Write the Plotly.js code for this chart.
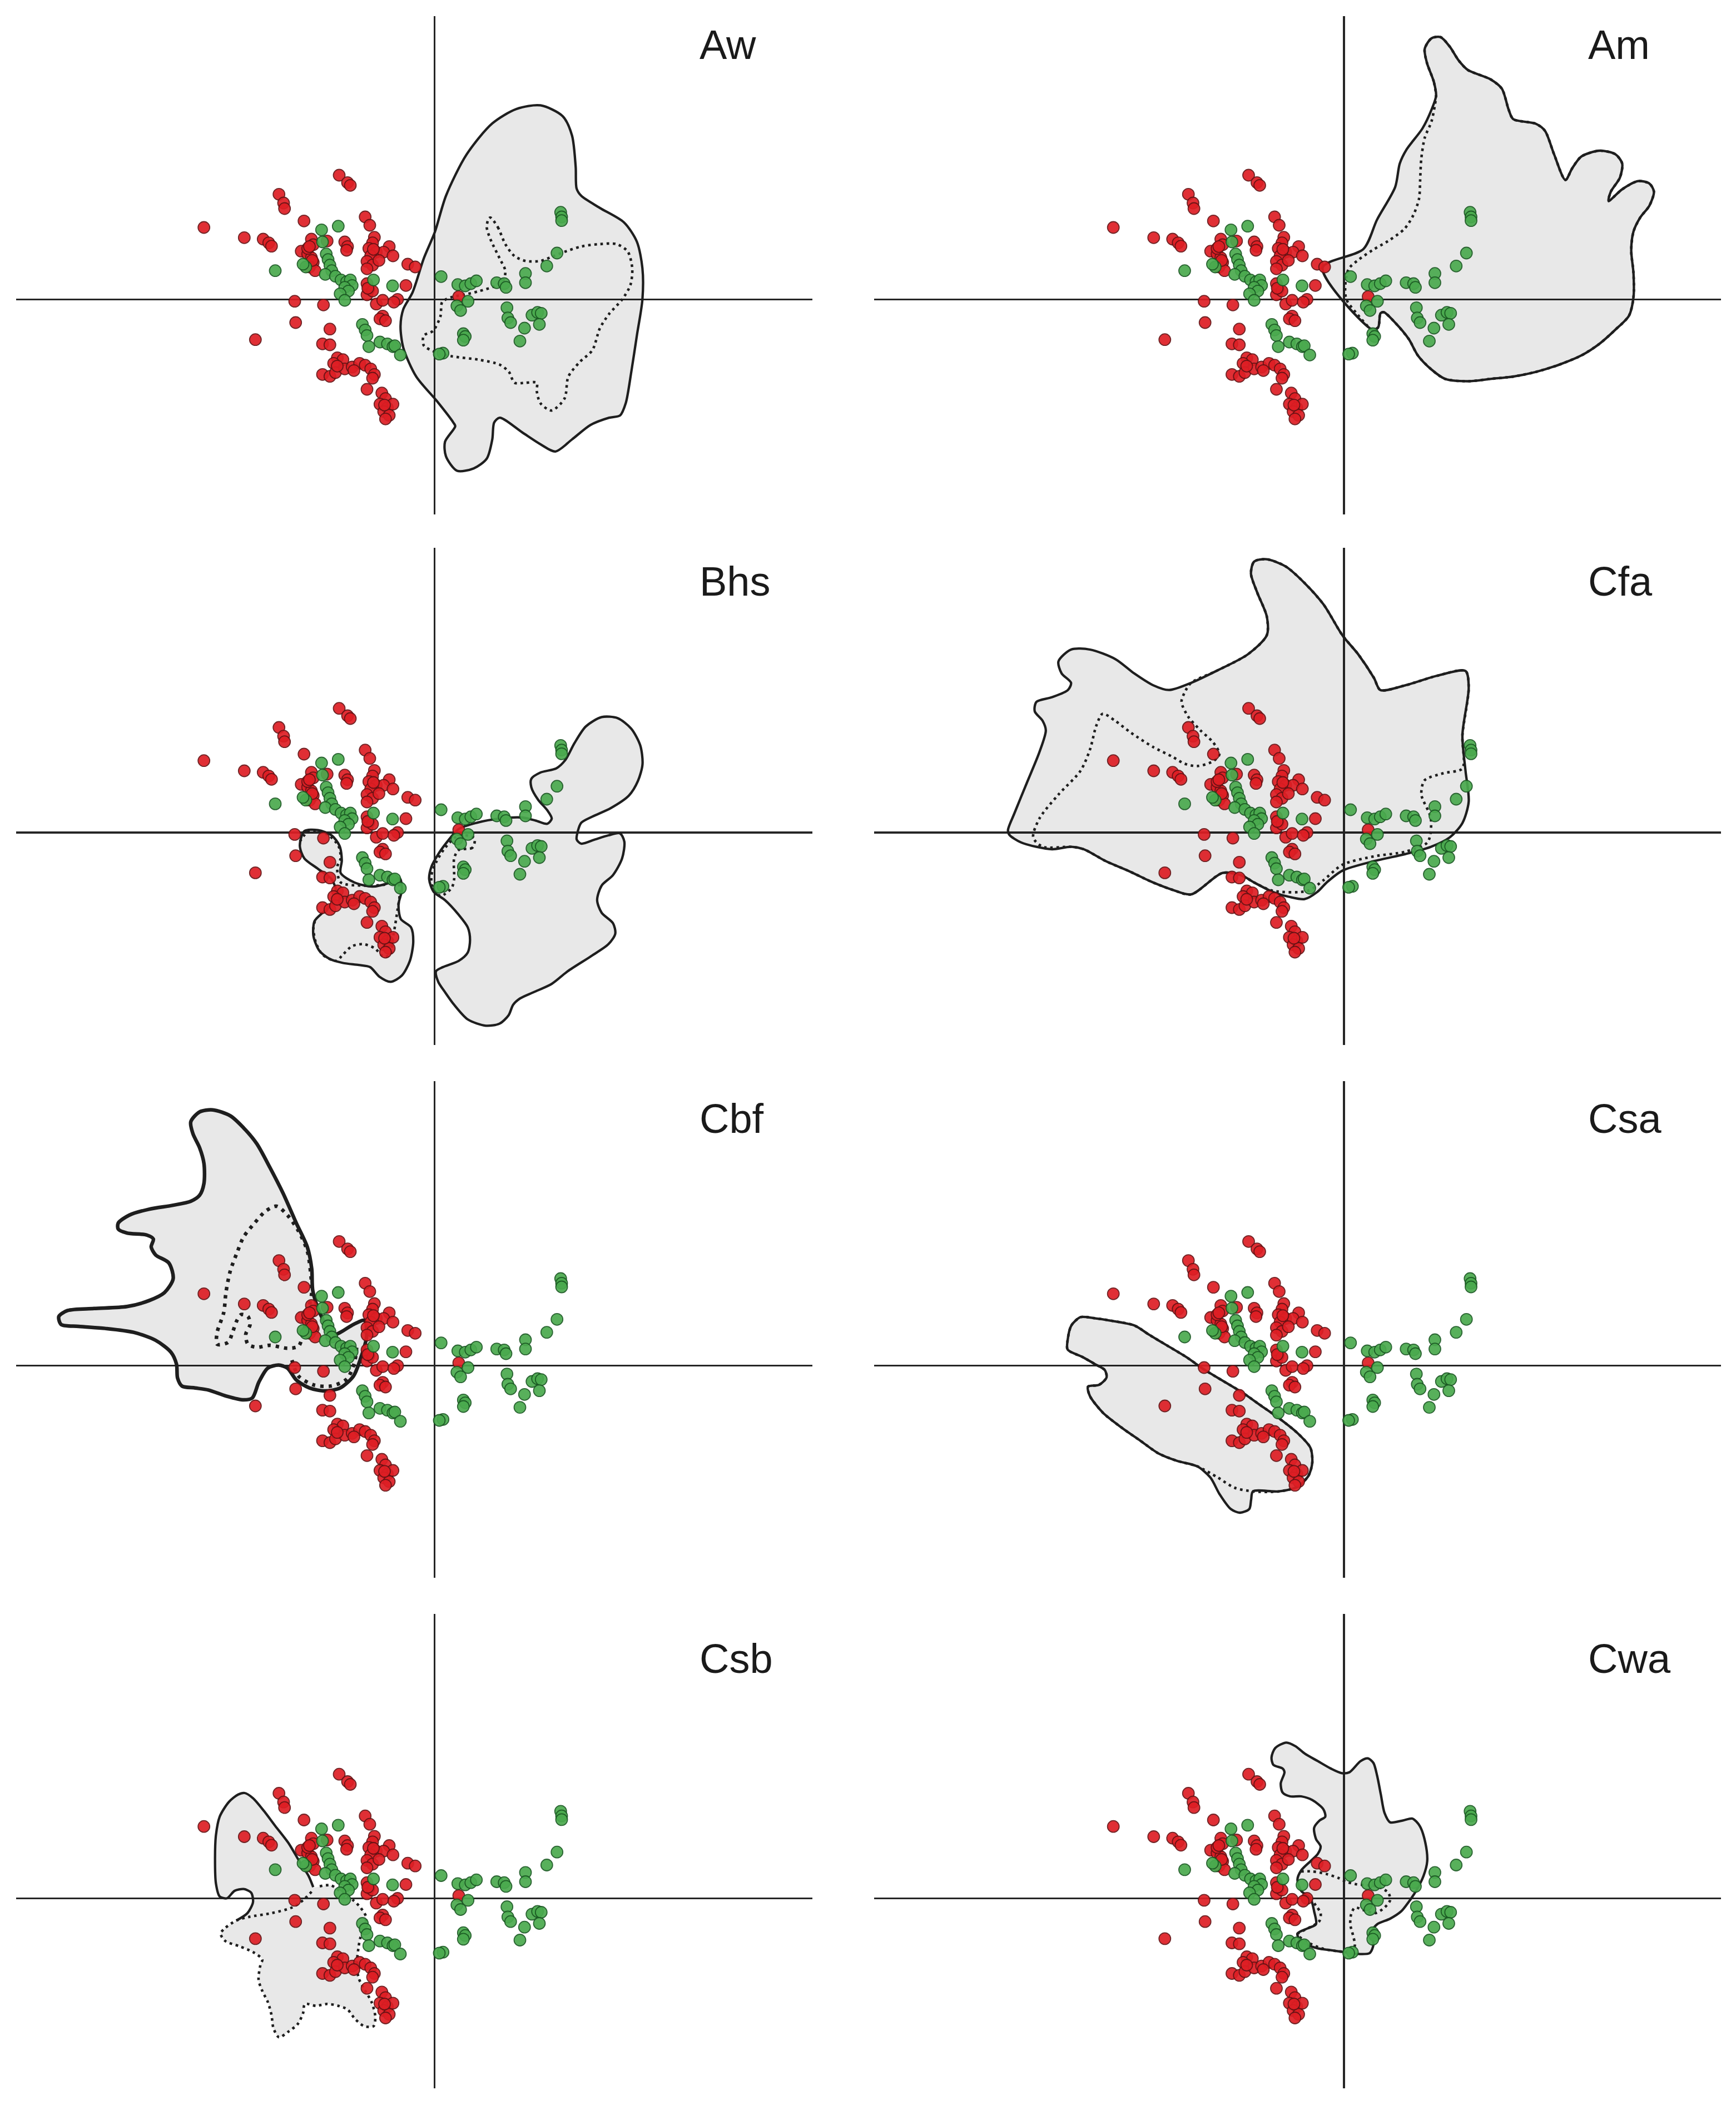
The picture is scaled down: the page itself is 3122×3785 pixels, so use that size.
<!DOCTYPE html>
<html><head><meta charset="utf-8">
<script src="https://cdn.plot.ly/plotly-3.0.1.min.js"></script>
<style>html,body{margin:0;padding:0;background:#fff}</style>
</head><body><div id="chart" style="width:3122px;height:3785px"></div>
<script>
// ---------- ordination scores (same in every panel) ----------
const redPts = [
[-1.715,2.233],[-1.565,2.100],[-1.515,2.050],[-2.798,1.890],[-2.715,1.733],[-2.698,1.633],[-2.348,1.410],[-4.148,1.293],[-3.422,1.110],[-3.082,1.083],[-2.982,1.017],[-2.932,0.957],[-1.248,1.483],[-1.165,1.333],[-2.215,1.083],[-2.182,0.983],[-2.398,0.866],[-2.282,0.816],[-2.215,0.750],[-2.182,0.666],[-2.248,0.583],[-2.148,0.516],[-2.282,0.916],[-1.932,1.050],[-1.615,1.033],[-1.565,0.950],[-1.582,0.883],[-1.082,1.116],[-1.115,1.016],[-1.182,0.916],[-1.048,0.850],[-1.148,0.783],[-1.215,0.683],[-1.115,0.616],[-1.215,0.550],[-0.815,0.950],[-0.915,0.850],[-0.748,0.783],[-0.482,0.633],[-0.348,0.583],[-0.515,0.250],[-0.665,0.000],[0.435,0.050],[-1.215,0.283],[-1.182,0.183],[-1.215,0.083],[-1.115,0.150],[-2.515,-0.034],[-1.998,-0.100],[-1.048,-0.084],[-0.932,-0.017],[-0.732,-0.050],[-0.932,-0.300],[-0.982,-0.350],[-0.882,-0.384],[-2.498,-0.417],[-1.882,-0.534],[-3.222,-0.724],[-2.015,-0.800],[-1.882,-0.817],[-1.748,-1.050],[-1.648,-1.084],[-1.815,-1.150],[-2.015,-1.350],[-1.882,-1.384],[-1.782,-1.317],[-1.615,-1.250],[-1.482,-1.217],[-1.348,-1.150],[-1.248,-1.184],[-1.148,-1.250],[-1.082,-1.350],[-1.115,-1.417],[-1.215,-1.617],[-0.948,-1.684],[-0.882,-1.784],[-0.982,-1.884],[-0.848,-1.950],[-0.915,-2.017],[-0.815,-2.084],[-0.882,-2.150],[-0.748,-1.884],
[-2.25,0.95],[-2.20,0.70],[-1.10,0.90],[-1.00,0.70],[-1.20,0.20],[-1.75,-1.20],[-1.45,-1.28],[-0.90,-1.90]
];
const greenPts = [
[-2.032,1.250],[-1.732,1.316],[-2.015,1.033],[-2.865,0.516],[-2.315,0.583],[-2.365,0.633],[-1.948,0.816],[-1.915,0.716],[-1.882,0.616],[-1.848,0.516],[-1.965,0.450],[-1.782,0.416],[-1.682,0.350],[-1.582,0.316],[-1.515,0.350],[-1.482,0.250],[-1.615,0.216],[-1.548,0.150],[-1.698,0.100],[-1.615,-0.017],[-1.098,0.350],[-0.755,0.243],[-1.298,-0.450],[-1.248,-0.550],[-1.215,-0.650],[-1.182,-0.850],[-0.982,-0.767],[-0.848,-0.800],[-0.748,-0.850],[-0.715,-0.834],[-0.615,-1.000],
[0.118,0.410],[0.418,0.266],[0.552,0.243],[0.652,0.283],[0.752,0.333],[1.118,0.300],[1.252,0.283],[1.285,0.216],[1.635,0.466],[1.635,0.300],[2.018,0.600],[2.202,0.833],[2.268,1.566],[2.285,1.483],[2.285,1.416],[0.602,-0.034],[0.402,-0.117],[0.468,-0.200],[0.518,-0.617],[0.552,-0.667],[0.518,-0.734],[0.152,-0.967],[0.085,-0.984],[1.302,-0.150],[1.318,-0.334],[1.368,-0.417],[1.618,-0.517],[1.535,-0.750],[1.752,-0.284],[1.852,-0.234],[1.918,-0.250],[1.885,-0.450]
];

// ---------- climate envelopes ----------
const awSolid = [[1.905,3.488],[2.305,3.293],[2.472,2.946],[2.538,2.382],[2.555,1.992],[2.638,1.862],[2.972,1.645],[3.405,1.385],[3.638,1.038],[3.738,0.561],[3.738,-0.003],[3.638,-0.653],[3.538,-1.304],[3.438,-1.868],[3.338,-2.085],[3.138,-2.128],[2.805,-2.258],[2.472,-2.518],[2.172,-2.735],[1.905,-2.605],[1.572,-2.388],[1.172,-2.128],[1.072,-2.215],[1.038,-2.518],[0.938,-2.865],[0.705,-3.039],[0.405,-3.082],[0.205,-2.822],[0.188,-2.561],[0.372,-2.280],[0.338,-2.215],[0.038,-1.824],[-0.328,-1.391],[-0.562,-0.870],[-0.612,-0.480],[-0.562,-0.176],[-0.395,0.127],[-0.195,0.734],[0.005,1.211],[0.205,1.862],[0.572,2.599],[1.038,3.163],[1.472,3.423]];
const awDot = [[1.005,1.471],[1.138,1.298],[1.272,0.994],[1.438,0.778],[1.638,0.691],[1.905,0.691],[2.138,0.778],[2.305,0.843],[2.638,0.951],[2.972,0.994],[3.272,0.994],[3.472,0.864],[3.555,0.561],[3.522,0.257],[3.372,-0.003],[3.138,-0.263],[2.972,-0.523],[2.838,-0.914],[2.605,-1.131],[2.405,-1.391],[2.338,-1.781],[2.105,-1.998],[1.905,-1.868],[1.838,-1.651],[1.838,-1.499],[1.638,-1.499],[1.438,-1.499],[1.338,-1.304],[1.172,-1.174],[0.805,-1.087],[0.305,-1.022],[0.038,-0.957],[-0.195,-0.827],[-0.195,-0.653],[-0.028,-0.567],[0.105,-0.307],[0.138,-0.046],[0.305,0.040],[0.538,0.084],[0.805,0.149],[1.072,0.235],[1.238,0.344],[1.272,0.517],[1.172,0.734],[1.005,1.081],[0.938,1.298],[0.972,1.450],[1.005,1.471]];

const amOuter = [[1.656,3.662],[1.615,3.915],[1.492,4.252],[1.452,4.504],[1.574,4.694],[1.737,4.715],[1.901,4.546],[2.064,4.294],[2.227,4.125],[2.635,3.957],[2.839,3.789],[2.962,3.410],[3.043,3.242],[3.452,3.157],[3.615,3.031],[3.778,2.610],[3.982,2.147],[4.105,2.358],[4.268,2.568],[4.594,2.673],[4.880,2.610],[5.003,2.442],[4.962,2.189],[4.799,1.937],[4.758,1.769],[5.003,1.979],[5.288,2.126],[5.492,2.084],[5.574,1.937],[5.492,1.684],[5.329,1.474],[5.207,1.221],[5.166,0.885],[5.207,0.464],[5.207,0.043],[5.125,-0.294],[4.880,-0.546],[4.594,-0.799],[4.268,-1.009],[3.860,-1.178],[3.452,-1.304],[3.043,-1.388],[2.635,-1.430],[2.227,-1.472],[1.819,-1.430],[1.574,-1.262],[1.329,-1.009],[1.166,-0.715],[0.921,-0.420],[0.717,-0.231],[0.656,-0.252],[0.615,-0.504],[0.513,-0.546]];
const amSolidEdge = [[-0.385,0.569],[0.350,0.906],[0.594,1.432],[0.921,2.021],[1.003,2.442],[1.125,2.694],[1.411,3.073],[1.574,3.410],[1.656,3.662]];
const amDotEdge = [[0.227,-0.252],[0.043,0.001],[0.023,0.253],[0.084,0.548],[0.268,0.716],[0.513,0.885],[0.799,1.053],[1.084,1.264],[1.248,1.516],[1.350,1.811],[1.370,2.147],[1.390,2.526],[1.452,2.905],[1.574,3.199],[1.635,3.494],[1.656,3.662]];

const bhsRight = [[0.434,0.063],[0.760,0.176],[1.168,0.251],[1.577,0.270],[1.821,0.214],[2.026,0.157],[2.107,0.251],[2.026,0.402],[1.862,0.590],[1.740,0.816],[1.740,0.966],[1.903,1.079],[2.189,1.154],[2.352,1.305],[2.515,1.606],[2.719,1.907],[3.005,2.076],[3.291,2.057],[3.536,1.869],[3.699,1.568],[3.740,1.229],[3.658,0.928],[3.495,0.665],[3.168,0.439],[2.842,0.289],[2.638,0.176],[2.577,0.026],[2.556,-0.125],[2.638,-0.200],[2.883,-0.125],[3.128,-0.050],[3.332,-0.012],[3.413,-0.163],[3.373,-0.464],[3.209,-0.765],[3.005,-0.953],[2.924,-1.216],[3.005,-1.442],[3.209,-1.630],[3.250,-1.818],[3.128,-2.006],[2.801,-2.232],[2.393,-2.495],[2.107,-2.721],[1.781,-2.871],[1.536,-2.984],[1.413,-3.097],[1.332,-3.285],[1.168,-3.436],[0.923,-3.473],[0.597,-3.360],[0.352,-3.097],[0.189,-2.871],[0.066,-2.683],[0.026,-2.495],[0.148,-2.420],[0.434,-2.307],[0.597,-2.157],[0.638,-1.931],[0.597,-1.705],[0.434,-1.479],[0.189,-1.216],[-0.015,-1.066],[-0.097,-0.840],[-0.056,-0.614],[0.066,-0.388],[0.229,-0.163]];
const bhsRightDot = [[0.719,-0.106],[0.678,-0.275],[0.434,-0.313],[0.352,-0.464],[0.352,-0.840],[0.311,-0.990],[0.189,-1.103],[0.107,-1.141],[-0.036,-0.990],[-0.056,-0.765],[0.026,-0.539],[0.189,-0.275],[0.434,-0.050],[0.719,-0.106]];
const bhsLeft = [[-2.342,0.026],[-2.097,0.044],[-1.852,-0.050],[-1.709,-0.238],[-1.668,-0.501],[-1.689,-0.727],[-1.444,-0.896],[-1.117,-0.971],[-0.791,-0.896],[-0.627,-0.821],[-0.587,-1.028],[-0.648,-1.291],[-0.607,-1.555],[-0.423,-1.705],[-0.383,-1.968],[-0.444,-2.307],[-0.587,-2.570],[-0.791,-2.683],[-0.995,-2.589],[-1.158,-2.420],[-1.362,-2.382],[-1.648,-2.345],[-1.893,-2.269],[-2.076,-2.119],[-2.179,-1.856],[-2.158,-1.592],[-2.015,-1.442],[-1.852,-1.291],[-1.770,-1.066],[-1.852,-0.840],[-2.097,-0.652],[-2.342,-0.464],[-2.423,-0.238]];
const bhsLeftDot = [[-2.423,-0.163],[-2.260,0.026],[-1.933,-0.031],[-1.729,-0.238],[-1.689,-0.464],[-1.750,-0.614],[-1.689,-0.896],[-1.281,-0.953],[-0.872,-0.934],[-0.668,-0.877],[-0.627,-1.103],[-0.668,-1.404],[-0.709,-1.668],[-0.750,-1.893],[-0.791,-2.194],[-0.913,-2.232],[-1.076,-2.081],[-1.281,-2.006],[-1.485,-2.044],[-1.648,-2.194],[-1.770,-2.307],[-2.015,-2.194],[-2.138,-1.968],[-2.179,-1.705],[-2.138,-1.555]];

const cfaTop = [[-2.751,2.691],[-2.297,2.905],[-1.730,3.204],[-1.389,3.546],[-1.389,3.888],[-1.560,4.315],[-1.673,4.657],[-1.616,4.871],[-1.389,4.914],[-1.049,4.785],[-0.708,4.486],[-0.368,4.102],[-0.027,3.546],[0.257,3.204],[0.541,2.777],[0.654,2.563],[1.108,2.649],[1.676,2.820],[2.186,2.905]];
const cfaSolidRest = [[2.243,2.606],[2.130,1.751],[2.186,1.110],[2.243,0.555],[2.130,0.170],[1.903,-0.086],[1.562,-0.257],[1.108,-0.386],[0.541,-0.514],[-0.027,-0.685],[-0.311,-0.898],[-0.481,-1.069],[-0.708,-1.197],[-0.992,-1.155],[-1.276,-1.069],[-1.616,-0.898],[-1.843,-0.770],[-2.184,-0.727],[-2.751,-1.112],[-3.092,-1.027],[-3.432,-0.898],[-3.886,-0.685],[-4.284,-0.514],[-4.681,-0.300],[-4.908,-0.257],[-5.248,-0.300],[-5.532,-0.257],[-5.816,-0.174],[-6.015,-0.044],[-6.043,0.042],[-5.929,0.341],[-5.702,0.897],[-5.475,1.452],[-5.362,1.837],[-5.419,2.008],[-5.561,2.179],[-5.532,2.349],[-5.248,2.435],[-4.965,2.563],[-4.908,2.691],[-5.078,2.862],[-5.135,3.076],[-4.908,3.290],[-4.567,3.290],[-4.113,3.119],[-3.773,2.862],[-3.432,2.649],[-3.148,2.563],[-2.751,2.691]];
const cfaDotRest = [[2.243,2.606],[2.130,1.751],[2.130,1.153],[1.789,1.067],[1.449,0.939],[1.392,0.683],[1.562,0.255],[1.505,-0.172],[1.108,-0.343],[0.541,-0.428],[-0.027,-0.578],[-0.368,-0.856],[-0.651,-1.048],[-1.276,-1.048],[-1.616,-0.898],[-1.843,-0.770],[-2.184,-0.727],[-2.751,-1.112],[-3.092,-1.027],[-3.432,-0.898],[-3.886,-0.685],[-4.284,-0.514],[-4.681,-0.300],[-4.908,-0.257],[-5.419,-0.257],[-5.589,-0.086],[-5.475,0.256],[-5.135,0.683],[-4.738,1.110],[-4.567,1.495],[-4.454,1.922],[-4.340,2.136],[-4.113,2.008],[-3.830,1.794],[-3.432,1.538],[-3.092,1.367],[-2.865,1.238],[-2.638,1.196],[-2.354,1.281],[-2.240,1.409],[-2.354,1.623],[-2.581,1.837],[-2.808,2.093],[-2.922,2.349],[-2.865,2.520],[-2.751,2.691]];

const cbfSolid = [[-3.989,4.599],[-3.673,4.492],[-3.435,4.277],[-3.198,3.992],[-2.961,3.563],[-2.724,3.099],[-2.486,2.563],[-2.289,2.135],[-2.209,1.742],[-2.190,1.349],[-2.051,0.920],[-1.814,0.563],[-1.458,0.742],[-1.261,0.813],[-1.221,0.528],[-1.340,0.099],[-1.458,-0.187],[-1.696,-0.401],[-1.972,-0.455],[-2.249,-0.401],[-2.486,-0.258],[-2.645,-0.044],[-2.803,0.010],[-3.000,-0.044],[-3.159,-0.294],[-3.277,-0.580],[-3.435,-0.615],[-3.752,-0.544],[-4.068,-0.437],[-4.305,-0.401],[-4.543,-0.366],[-4.622,-0.223],[-4.641,0.027],[-4.740,0.242],[-5.017,0.456],[-5.412,0.599],[-5.926,0.670],[-6.401,0.706],[-6.717,0.742],[-6.757,0.885],[-6.599,0.992],[-6.124,1.028],[-5.531,1.063],[-5.136,1.170],[-4.859,1.313],[-4.701,1.563],[-4.780,1.849],[-5.017,1.992],[-5.096,2.135],[-5.057,2.277],[-5.175,2.349],[-5.531,2.385],[-5.689,2.456],[-5.689,2.563],[-5.491,2.706],[-5.136,2.813],[-4.701,2.885],[-4.384,2.956],[-4.226,3.063],[-4.147,3.278],[-4.147,3.635],[-4.226,3.920],[-4.345,4.170],[-4.384,4.385],[-4.226,4.563]];
const cbfDot = [[-2.842,2.867],[-2.645,2.706],[-2.447,2.420],[-2.289,2.063],[-2.229,1.670],[-2.209,1.313],[-2.289,0.920],[-2.368,0.563],[-2.447,0.349],[-2.645,0.313],[-2.961,0.367],[-3.198,0.331],[-3.356,0.385],[-3.396,0.563],[-3.317,0.742],[-3.356,0.885],[-3.475,0.920],[-3.554,0.813],[-3.633,0.599],[-3.712,0.420],[-3.910,0.385],[-3.910,0.599],[-3.791,0.956],[-3.752,1.313],[-3.673,1.706],[-3.554,2.028],[-3.435,2.313],[-3.238,2.563],[-3.040,2.777],[-2.842,2.867]];
const cbfLoop = [[-2.565,0.099],[-2.447,-0.187],[-2.170,-0.348],[-1.854,-0.365],[-1.577,-0.240],[-1.439,0.063],[-1.399,0.349]];

const csaA = [[-4.970,0.456],[-4.903,0.723],[-4.737,0.873],[-4.503,0.856],[-4.170,0.806],[-3.770,0.723],[-3.503,0.556],[-3.170,0.356],[-2.837,0.156],[-2.503,-0.077],[-2.170,-0.277],[-1.837,-0.477],[-1.503,-0.711],[-1.170,-0.944],[-0.837,-1.211],[-0.603,-1.477],[-0.570,-1.744],[-0.637,-1.977],[-0.837,-2.177],[-1.170,-2.261],[-1.637,-2.261]];
const csaLobe = [[-1.670,-2.411],[-1.703,-2.577],[-1.870,-2.644],[-2.037,-2.577],[-2.237,-2.311],[-2.403,-2.011]];
const csaNoLobe = [[-1.970,-2.194],[-2.270,-2.011]];
const csaB = [[-2.637,-1.811],[-3.003,-1.711],[-3.337,-1.577],[-3.670,-1.344],[-4.003,-1.111],[-4.337,-0.844],[-4.570,-0.544],[-4.603,-0.377],[-4.403,-0.344],[-4.270,-0.211],[-4.303,-0.077],[-4.470,0.023],[-4.703,0.156],[-4.970,0.289],[-4.970,0.456]];

const csbSolidEdge = [[-3.565,-0.398],[-3.365,-0.265],[-3.265,-0.065],[-3.298,0.102],[-3.432,0.168],[-3.598,0.135],[-3.732,0.002],[-3.865,0.035],[-3.932,0.268],[-3.948,0.735],[-3.932,1.135],[-3.865,1.468],[-3.698,1.735],[-3.532,1.868],[-3.415,1.895],[-3.265,1.802],[-3.065,1.568],[-2.865,1.302],[-2.632,1.002],[-2.432,0.668],[-2.265,0.402],[-2.182,0.202]];
const csbDotEdge = [[-2.065,0.218],[-1.865,0.235],[-1.665,0.102],[-1.465,-0.032],[-1.332,-0.165],[-1.232,-0.332],[-1.265,-0.532],[-1.332,-0.698],[-1.365,-0.865],[-1.398,-1.198],[-1.365,-1.432],[-1.265,-1.632],[-1.132,-1.865],[-1.065,-2.132],[-1.098,-2.298],[-1.265,-2.298],[-1.432,-2.165],[-1.565,-1.998],[-1.732,-1.932],[-1.932,-1.898],[-2.132,-1.932],[-2.332,-1.898],[-2.365,-2.065],[-2.465,-2.265],[-2.632,-2.398],[-2.798,-2.498],[-2.898,-2.332],[-2.932,-2.098],[-2.998,-1.865],[-3.098,-1.665],[-3.165,-1.465],[-3.132,-1.198],[-3.098,-1.098],[-3.265,-0.965],[-3.498,-0.865],[-3.765,-0.765],[-3.848,-0.632],[-3.765,-0.532],[-3.565,-0.398]];
const csbInner = [[-3.332,-0.332],[-2.932,-0.265],[-2.565,-0.165],[-2.365,-0.032],[-2.198,0.135]];

const cwaSolid = [[-1.303,2.535],[-1.237,2.702],[-1.037,2.802],[-0.870,2.735],[-0.703,2.602],[-0.470,2.468],[-0.237,2.335],[-0.037,2.252],[0.097,2.268],[0.297,2.468],[0.430,2.518],[0.530,2.435],[0.597,2.202],[0.663,1.868],[0.730,1.535],[0.830,1.368],[1.063,1.402],[1.230,1.435],[1.363,1.302],[1.463,1.002],[1.497,0.668],[1.430,0.402],[1.297,0.135],[1.163,-0.065],[1.030,-0.232],[0.830,-0.365],[0.597,-0.465],[0.497,-0.598],[0.530,-0.832],[0.463,-0.982],[0.230,-0.998],[-0.003,-0.965],[-0.237,-0.932],[-0.470,-0.898],[-0.670,-0.832],[-0.803,-0.732],[-0.837,-0.632],[-0.637,-0.532],[-0.503,-0.465],[-0.537,-0.232],[-0.603,0.002],[-0.770,0.135],[-0.837,0.335],[-0.770,0.502],[-0.603,0.668],[-0.470,0.802],[-0.420,0.935],[-0.503,1.068],[-0.537,1.268],[-0.437,1.402],[-0.337,1.468],[-0.370,1.602],[-0.570,1.768],[-0.770,1.835],[-0.970,1.835],[-1.103,1.902],[-1.137,2.068],[-1.070,2.268],[-1.103,2.335],[-1.270,2.402]];
const cwaDot1 = [[-0.770,0.485],[-0.570,0.485],[-0.303,0.435],[-0.103,0.368],[0.030,0.302],[0.230,0.252],[0.430,0.235],[0.630,0.202],[0.797,0.102],[0.830,-0.032],[0.730,-0.165],[0.563,-0.265],[0.363,-0.215],[0.197,-0.165],[0.130,-0.282],[0.113,-0.465],[0.163,-0.665],[0.197,-0.832],[0.163,-0.948]];
const cwaDot2 = [[-0.603,0.002],[-0.503,-0.132],[-0.420,-0.265],[-0.437,-0.398],[-0.537,-0.482],[-0.703,-0.565],[-0.837,-0.648],[-0.637,-0.798],[-0.403,-0.898],[-0.137,-0.948],[0.097,-0.965]];

const panelNames = ['Aw','Am','Bhs','Cfa','Cbf','Csa','Csb','Cwa'];

// ---------- assembly ----------
const close = a => a.concat([a[0]]);
const panels = [
  {fills:[awSolid], solids:[close(awSolid)], dots:[awDot]},
  {fills:[amOuter.concat(amSolidEdge)], solids:[amOuter.concat(amSolidEdge)], dots:[amOuter.concat(amDotEdge)]},
  {fills:[bhsRight, bhsLeft], solids:[close(bhsRight), close(bhsLeft)], dots:[bhsRightDot, bhsLeftDot]},
  {fills:[cfaTop.concat(cfaSolidRest)], solids:[cfaTop.concat(cfaSolidRest)], dots:[cfaTop.concat(cfaDotRest)]},
  {fills:[cbfSolid], solids:[close(cbfSolid)], dots:[cbfDot, cbfLoop], thick:true},
  {fills:[csaA.concat(csaLobe, csaB)], solids:[csaA.concat(csaLobe, csaB)], dots:[csaA.concat(csaNoLobe, csaB)]},
  {fills:[csbSolidEdge.concat(csbDotEdge)], solids:[csbSolidEdge], dots:[csbDotEdge.concat(csbInner)]},
  {fills:[cwaSolid], solids:[close(cwaSolid)], dots:[cwaDot1, cwaDot2]}
];

const colDom = [[0.00929,0.46797],[0.50352,0.99151]];
const colRange = [[-7.525,6.795],[-8.45,6.785]];
const rowDom = [[0.75561,0.99234],[0.50367,0.73976],[0.25046,0.48639],[0.00793,0.23329]];
const rowRange = [[-3.867,5.093],[-3.816,5.12],[-3.814,5.116],[-3.415,5.115]];
const labelX = [0.4023, 0.9142];
const labelY = [0.97886, 0.72391, 0.46869, 0.21215];

const traces = [];
const layout = {
  width:3122, height:3785, margin:{l:0,r:0,t:0,b:0},
  paper_bgcolor:'#fff', plot_bgcolor:'rgba(0,0,0,0)', showlegend:false, annotations:[]
};
const axBase = {showgrid:false, showticklabels:false, ticks:'', showline:false,
  zeroline:true, zerolinecolor:'#262626', zerolinewidth:3.4, fixedrange:true};

panels.forEach((p, i) => {
  const n = i + 1, col = i % 2, row = Math.floor(i / 2);
  const xa = 'x' + (n === 1 ? '' : n), ya = 'y' + (n === 1 ? '' : n);
  layout['xaxis' + (n === 1 ? '' : n)] = Object.assign({}, axBase, {domain:colDom[col], range:colRange[col], anchor:ya});
  layout['yaxis' + (n === 1 ? '' : n)] = Object.assign({}, axBase, {domain:rowDom[row], range:rowRange[row], anchor:xa});
  const sw = p.thick ? 6.5 : 4.3;
  const dw = p.thick ? 6.5 : 4.6;
  const dd = p.thick ? '6px,9px' : '4.6px,6.5px';
  p.fills.forEach(poly => traces.push({type:'scatter', mode:'lines', xaxis:xa, yaxis:ya,
    x:poly.map(d=>d[0]), y:poly.map(d=>d[1]), fill:'toself', fillcolor:'rgba(0,0,0,0.09)',
    line:{width:0, shape:'spline', smoothing:0.8}, hoverinfo:'skip'}));
  p.dots.forEach(path => traces.push({type:'scatter', mode:'lines', xaxis:xa, yaxis:ya,
    x:path.map(d=>d[0]), y:path.map(d=>d[1]),
    line:{color:'#1e1e1e', width:dw, dash:dd, shape:'spline', smoothing:0.8}, hoverinfo:'skip'}));
  p.solids.forEach(path => traces.push({type:'scatter', mode:'lines', xaxis:xa, yaxis:ya,
    x:path.map(d=>d[0]), y:path.map(d=>d[1]),
    line:{color:'#1e1e1e', width:sw, shape:'spline', smoothing:0.8}, hoverinfo:'skip'}));
  traces.push({type:'scatter', mode:'markers', xaxis:xa, yaxis:ya,
    x:redPts.map(d=>d[0]), y:redPts.map(d=>d[1]),
    marker:{size:21, color:'rgb(222,30,36)', opacity:0.92, line:{color:'rgb(100,18,20)', width:1.8}}});
  traces.push({type:'scatter', mode:'markers', xaxis:xa, yaxis:ya,
    x:greenPts.map(d=>d[0]), y:greenPts.map(d=>d[1]),
    marker:{size:21, color:'rgb(74,170,78)', opacity:0.92, line:{color:'rgb(26,88,34)', width:1.8}}});
  layout.annotations.push({text:panelNames[i], xref:'paper', yref:'paper', x:labelX[col], y:labelY[row],
    xanchor:'left', yanchor:'middle', showarrow:false,
    font:{family:'Liberation Sans, Arial, sans-serif', size:74, color:'#1a1a1a'}});
});

Plotly.newPlot('chart', traces, layout, {staticPlot:true, displayModeBar:false});
</script>
</body></html>
